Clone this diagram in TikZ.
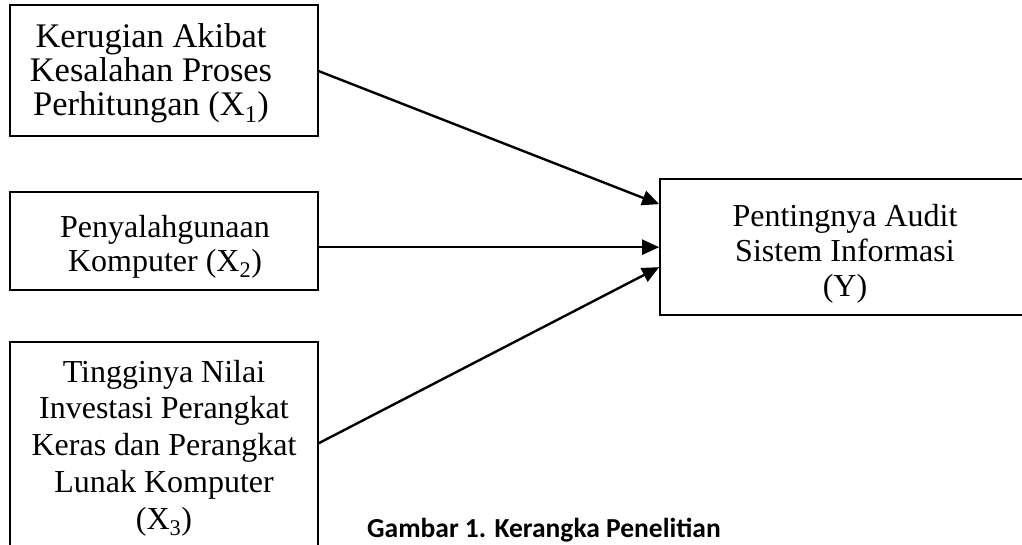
\documentclass[tikz,border=0pt]{standalone}
\usepackage{fontspec}
\setmainfont{Liberation Serif}
\newfontfamily\capfont{Carlito}
\usetikzlibrary{arrows.meta,calc}
\begin{document}
\begin{tikzpicture}[x=1pt,y=-1pt,
  box/.style={draw,line width=1.7pt,inner sep=0pt},
  txt/.style={align=center,inner sep=0pt},
  arr/.style={line width=2.4pt,-{Triangle[length=17pt,width=15pt]}}]
\useasboundingbox (0,0) rectangle (1022,544);
\clip (0,0) rectangle (1022,544);
% boxes
\node[box,minimum width=308pt,minimum height=131pt] (X1) at (164,70.5) {};
\node[box,minimum width=308pt,minimum height=98pt] (X2) at (164,241) {};
\node[box,minimum width=308pt,minimum height=230pt] (X3) at (164,457) {};
\node[box,minimum width=370pt,minimum height=136pt] (Y) at (845,247) {};
% texts
\node[txt,font=\fontsize{34.5}{34}\selectfont] (X1t) at (151,73)
  {Kerugian Akibat\\Kesalahan Proses\\Perhitungan (X\textsubscript{1})};
\node[txt,font=\fontsize{32}{34}\selectfont] (X2t) at (165,247)
  {Penyalahgunaan\\Komputer (X\textsubscript{2})};
\node[txt,font=\fontsize{32}{36.8}\selectfont] (X3t) at (164,448)
  {Tingginya Nilai\\Investasi Perangkat\\Keras dan Perangkat\\Lunak Komputer\\(X\textsubscript{3})};
\node[txt,font=\fontsize{32}{35}\selectfont] (Yt) at (845,254)
  {Pentingnya Audit\\Sistem Informasi\\(Y)};
% caption
\node[inner sep=0pt,anchor=base west,font=\capfont\bfseries\fontsize{27.5}{30}\selectfont] (cap) at (367,537)
  {Gambar 1. Kerangka Penelitian};
% arrows
\draw[arr] ($(X1.north east)+(0,67)$) -- ($(Y.north west)+(0,26)$);
\draw[arr] ($(X2.north east)+(0,56)$) -- ($(Y.north west)+(0,69)$);
\draw[arr] ($(X3.north east)+(0,102)$) -- ($(Y.north west)+(0,89)$);
\end{tikzpicture}
\end{document}
